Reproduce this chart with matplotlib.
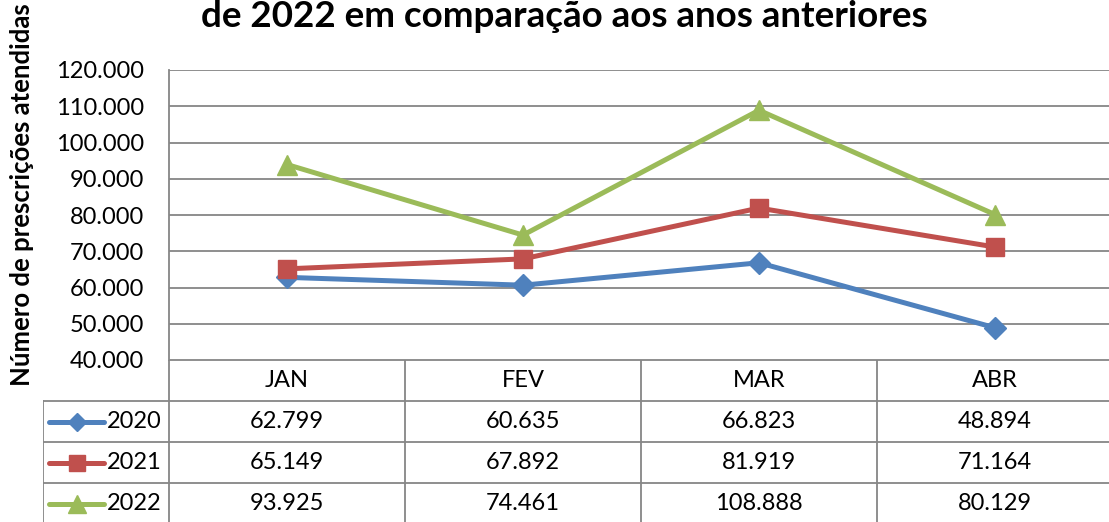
import matplotlib
matplotlib.use("Agg")
import matplotlib.pyplot as plt

months = ["JAN", "FEV", "MAR", "ABR"]
years = ["2020", "2021", "2022"]
v2020 = [62799, 60635, 66823, 48894]
v2021 = [65149, 67892, 81919, 71164]
v2022 = [93925, 74461, 108888, 80129]
series = [v2020, v2021, v2022]
colors = ["#4F81BD", "#C0504D", "#9BBB59"]
markers = ["D", "s", "^"]
msizes = [11, 13, 15]

plt.rcParams["font.family"] = ["Lato", "DejaVu Sans"]
W, H = 1109, 522
fig = plt.figure(figsize=(W / 100, H / 100), dpi=100)


def fmt(v):
    return f"{int(round(v)):,}".replace(",", ".")


grid_c = "#868686"
fs = 17

# plot area in pixels
x0, x1, ytop, ybot = 169, 1113, 70, 360
ax = fig.add_axes([x0 / W, 1 - ybot / H, (x1 - x0) / W, (ybot - ytop) / H])
x = list(range(len(months)))
for vals, c, m, ms in zip(series, colors, markers, msizes):
    ax.plot(x, vals, color=c, lw=3.6, marker=m, ms=ms, mec=c, mfc=c, zorder=3)
ax.set_xlim(-0.5, len(months) - 0.5)
ax.set_ylim(40000, 120000)
ax.set_yticks(range(40000, 120001, 10000))
ax.set_yticklabels([fmt(t) for t in range(40000, 120001, 10000)], fontsize=fs)
ax.set_xticks([])
ax.tick_params(axis="y", length=0, pad=18)
ax.yaxis.grid(True, color=grid_c, lw=1.3)
ax.set_axisbelow(True)
for s in ["top", "right", "bottom"]:
    ax.spines[s].set_visible(False)
ax.spines["left"].set_color(grid_c)
ax.spines["left"].set_linewidth(1.3)

# data table below
lx0 = 43
row_h = 41
n_rows = 1 + len(years)
tb = ybot + row_h * n_rows
tab = fig.add_axes([lx0 / W, 1 - tb / H, (x1 - lx0) / W, (tb - ybot) / H])
cw = (x1 - x0) / len(months)
leg_w = (x0 - lx0) / cw
tab.set_xlim(-0.5 - leg_w, len(months) - 0.5)
tab.set_ylim(n_rows, 0)
tab.axis("off")

lk = dict(color=grid_c, lw=1.3)
tab.plot([-0.5, len(months) - 0.5], [0, 0], **lk)
for r in range(1, n_rows + 1):
    tab.plot([-0.5 - leg_w, len(months) - 0.5], [r, r], **lk)
tab.plot([-0.5 - leg_w, -0.5 - leg_w], [1, n_rows], **lk)
for i in range(len(months) + 1):
    tab.plot([i - 0.5, i - 0.5], [0, n_rows], **lk)

for i, mth in enumerate(months):
    tab.text(i, 0.5, mth, ha="center", va="center", fontsize=fs)
for r, (yr, vals, c, m, ms) in enumerate(zip(years, series, colors, markers, msizes), start=1):
    for i, v in enumerate(vals):
        tab.text(i, r + 0.5, fmt(v), ha="center", va="center", fontsize=fs)
    lx_a = -0.5 - leg_w + 6 / cw
    lx_b = -0.5 - leg_w + 61 / cw
    tab.plot([lx_a, lx_b], [r + 0.5, r + 0.5], color=c, lw=3.6, solid_capstyle="round")
    tab.plot([(lx_a + lx_b) / 2], [r + 0.5], marker=m, ms=ms * 0.85, color=c)
    tab.text(-0.5 - 7 / cw, r + 0.5, yr, ha="right", va="center", fontsize=fs)

fig.text(564 / W, 1 - 27 / H, "de 2022 em comparação aos anos anteriores",
         ha="center", va="baseline", fontsize=26.5, fontweight="bold")
fig.text(22 / W, 1 - 195 / H, "Número de prescrições atendidas", rotation=90,
         ha="center", va="center", fontsize=18.5, fontweight="bold")

fig.savefig("out.png", dpi=100)
